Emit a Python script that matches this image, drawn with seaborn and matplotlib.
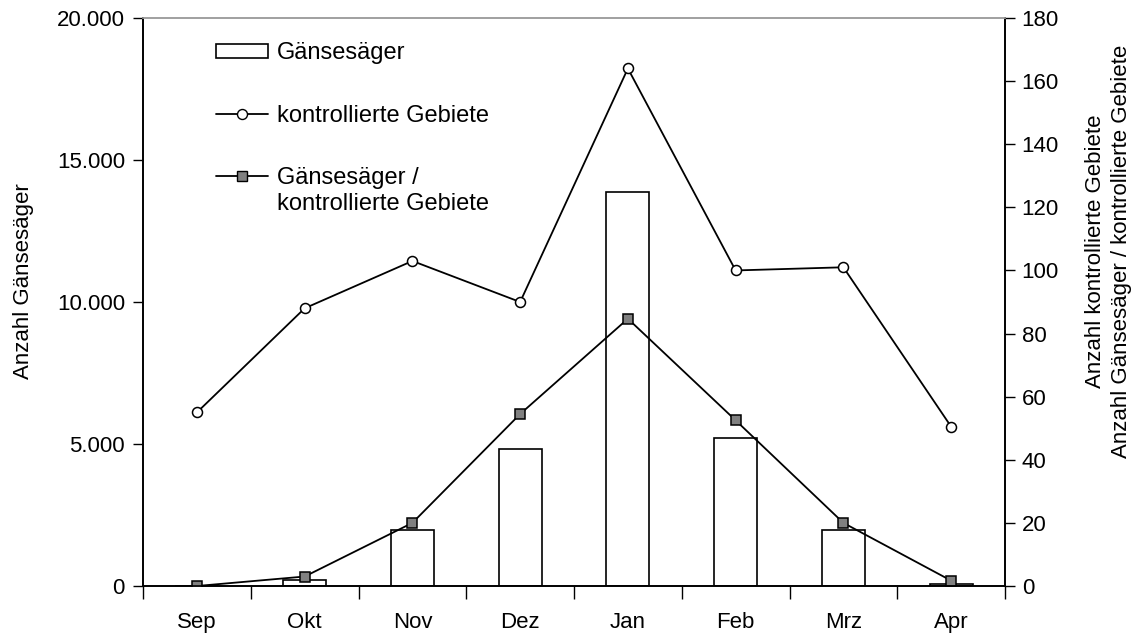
import numpy as np
import pandas as pd
import matplotlib
matplotlib.use("Agg")
import matplotlib.pyplot as plt
import seaborn as sns
from matplotlib.patches import Patch
from matplotlib.lines import Line2D
from matplotlib.ticker import FuncFormatter, FixedLocator

# Data
months = ["Sep", "Okt", "Nov", "Dez", "Jan", "Feb", "Mrz", "Apr"]
gaensesaeger = [0, 200, 1960, 4840, 13870, 5210, 1960, 80]
kontrollierte_gebiete = [55, 88, 103, 90, 164, 100, 101, 50.5]
pro_gebiet = [0, 3, 20, 54.5, 84.7, 52.5, 20, 1.7]

sns.set_theme(style="white")
plt.rcParams['font.family'] = ['Liberation Sans', 'DejaVu Sans']
plt.rcParams['font.size'] = 16
plt.rcParams['text.color'] = 'black'
plt.rcParams['axes.labelcolor'] = 'black'
plt.rcParams['xtick.color'] = 'black'
plt.rcParams['ytick.color'] = 'black'

df = pd.DataFrame({"month": months, "count": gaensesaeger})

fig = plt.figure(figsize=(11.47, 6.38), dpi=100)
ax = fig.add_axes([0.1247, 0.0815, 0.7515, 0.8903])

sns.barplot(data=df, x="month", y="count", ax=ax, color="white",
            edgecolor="black", linewidth=1.2, width=0.4, saturation=1)

ax2 = ax.twinx()
pos = np.arange(len(months))
sns.lineplot(x=pos, y=kontrollierte_gebiete, ax=ax2, color="black", lw=1.3,
             marker="o", markersize=7.2, markerfacecolor="white",
             markeredgecolor="black", markeredgewidth=1.1)
sns.lineplot(x=pos, y=pro_gebiet, ax=ax2, color="black", lw=1.3,
             marker="s", markersize=7.2, markerfacecolor="#808080",
             markeredgecolor="black", markeredgewidth=1.1)

# axes limits and ticks
ax.set_xlim(-0.5, len(months) - 0.5)
ax.set_ylim(0, 20000)
ax2.set_ylim(0, 180)
ax.set_yticks(np.arange(0, 20001, 5000))
ax.yaxis.set_major_formatter(FuncFormatter(lambda v, p: f"{int(v):,}".replace(",", ".")))
ax2.set_yticks(np.arange(0, 181, 20))

ax.set_xticks(pos)
ax.set_xticklabels(months)
ax.xaxis.set_minor_locator(FixedLocator(np.arange(-0.5, len(months), 1.0)))
ax.tick_params(axis="x", which="major", length=0, pad=19, labelsize=16)
ax.tick_params(axis="x", which="minor", length=9, width=1, color="black", direction="out", bottom=True)
ax.tick_params(axis="y", length=7, width=1, color="black", direction="out", left=True, pad=6, labelsize=16)
ax2.tick_params(axis="y", length=7, width=1, color="black", direction="out", right=True, pad=5, labelsize=16)

for a in (ax, ax2):
    for s in ["left", "right", "bottom"]:
        a.spines[s].set_color("black")
        a.spines[s].set_linewidth(1.2)
    a.spines["top"].set_color("#a0a0a0")
    a.spines["top"].set_linewidth(1.2)
    a.grid(False)

ax.set_xlabel("")
ax.set_ylabel("Anzahl Gänsesäger", fontsize=16)
ax.yaxis.set_label_coords(-0.1265, 0.537)
ax2.set_ylabel("Anzahl kontrollierte Gebiete\nAnzahl Gänsesäger / kontrollierte Gebiete",
               fontsize=16, rotation=90, multialignment="center", linespacing=1.3)
ax2.yaxis.set_label_coords(1.0928, 0.59)

handles = [
    Patch(facecolor="white", edgecolor="black", linewidth=1.2),
    Line2D([], [], color="black", lw=1.3, marker="o", markersize=7.2,
           markerfacecolor="white", markeredgecolor="black"),
    Line2D([], [], color="black", lw=1.3, marker="s", markersize=7.2,
           markerfacecolor="#808080", markeredgecolor="black"),
]
labels = ["Gänsesäger", "kontrollierte Gebiete", "Gänsesäger /"]
leg = ax2.legend(handles, labels, loc="upper left", bbox_to_anchor=(0.085, 0.957),
                 frameon=False, fontsize=17, handlelength=2.2, handletextpad=0.35,
                 handleheight=0.5, labelspacing=1.7, borderaxespad=0, borderpad=0)

# second line of the last legend label sits under its first line,
# the handle stays level with "Gänsesäger /" as in the original
fig.canvas.draw()
bb = leg.get_texts()[2].get_window_extent()
W, H = fig.get_size_inches() * fig.dpi
fig.text(bb.x0 / W, (bb.y0 - 4) / H, "kontrollierte Gebiete",
         ha="left", va="top", fontsize=17)

fig.savefig("out.png", dpi=100)
